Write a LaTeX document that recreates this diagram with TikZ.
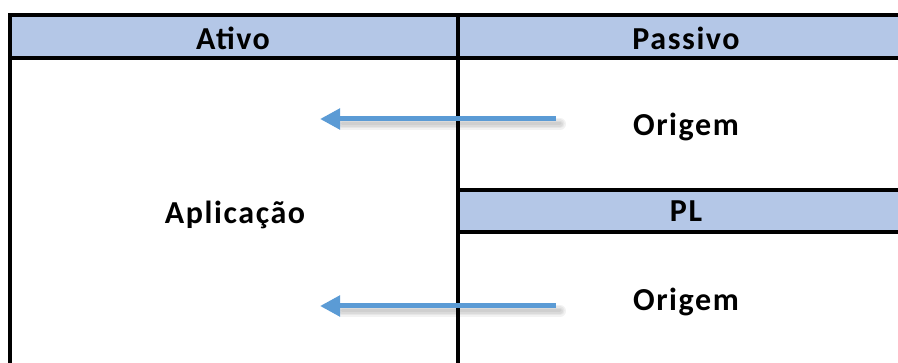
\documentclass[tikz,border=0pt]{standalone}
\usepackage{fontspec}
\setmainfont{Carlito}
\usetikzlibrary{arrows.meta,positioning}

\definecolor{bandblue}{HTML}{B4C7E7}
\definecolor{arrowblue}{HTML}{5B9BD5}

\begin{document}
\begin{tikzpicture}[x=1pt, y=-1pt
        , rule/.style={draw=black, line width=4pt}
        , band/.style={fill=bandblue, draw=none}
        , label/.style={font=\fontsize{32}{36}\selectfont\bfseries\addfontfeatures{LetterSpace=5}}
        , flow/.style={draw=arrowblue, line width=5pt, -{Triangle[length=20pt,width=20pt]}}
        , flowshade/.style={draw=black, opacity=.05, line cap=round}
        ]

        \useasboundingbox (0,0) rectangle (898,363);

        % header and PL bands
        \path[band] (9.5,15.5) rectangle (898,58.5);
        \path[band] (457.5,190) rectangle (898,232.5);

        % table rules
        \draw[rule] (898,15.5) -- (9.5,15.5) -- (9.5,363);
        \draw[rule] (9.5,58.5) -- (898,58.5);
        \draw[rule] (457.5,15.5) -- (457.5,363);
        \draw[rule] (457.5,190) -- (898,190);
        \draw[rule] (457.5,232.5) -- (898,232.5);

        \node[label] (ativo) at (233,38) {Ativo};
        \node[label] (passivo) at (686,38) {Passivo};
        \node[label] (pl) at (686,211) {PL};
        \node[label] (origemA) at (686,127) {Origem};
        \node[label] (origemB) at (686,302) {Origem};
        \node[label] (aplicacao) at (235,215) {Aplicação};

        \foreach \i/\y in {A/119,B/306} {
            \coordinate (src\i) at (556,\y);
            \coordinate (dst\i) at (320,\y);
        }

        % soft shadow under the arrows
        \foreach \i in {A,B}
            \foreach \w in {3,6,9,12}
                \draw[flowshade, line width=\w pt] ([shift={(4,5)}]src\i) -- ([shift={(22,5)}]dst\i);

        \draw[flow] (srcA) -- (dstA);
        \draw[flow] (srcB) -- (dstB);

\end{tikzpicture}
\end{document}
